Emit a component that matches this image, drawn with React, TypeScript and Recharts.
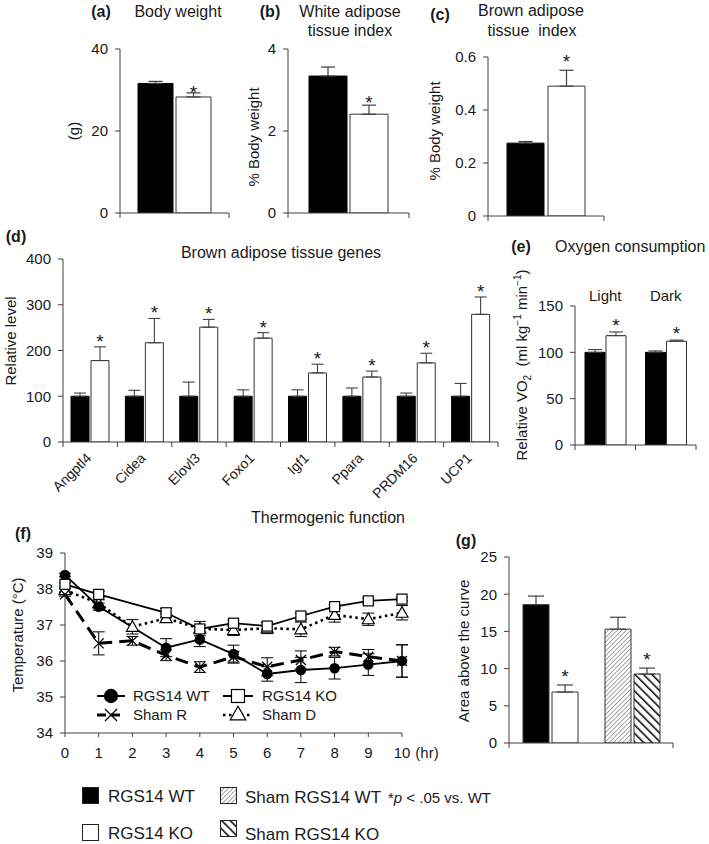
import React from 'react';
import { BarChart, Bar, XAxis, YAxis, ErrorBar, LabelList, Cell, LineChart, Line } from 'recharts';

const FONT = '"Liberation Sans", Arial, Helvetica, sans-serif';
const INK = '#1a1a1a';
const AXIS = '#404040';

// (a)-(c) RGS14 WT vs RGS14 KO
const bodyWeight = [31.6, 28.3];
const bodyWeightErr = [0.5, 1.0];
const watIndex = [3.34, 2.41];
const watIndexErr = [0.22, 0.22];
const batIndex = [0.275, 0.49];
const batIndexErr = [0.006, 0.06];

// (d) brown adipose tissue genes
const genes = ['Angptl4', 'Cidea', 'Elovl3', 'Foxo1', 'Igf1', 'Ppara', 'PRDM16', 'UCP1'];
const genesWT = [100, 100, 100, 100, 100, 100, 100, 100];
const genesWTErr = [7, 13, 31, 14, 14, 18, 7, 28];
const genesKO = [178, 217, 251, 227, 151, 142, 173, 279];
const genesKOErr = [30, 53, 17, 12, 19, 13, 21, 38];

// (e) oxygen consumption
const periods = ['Light', 'Dark'];
const vo2WT = [100, 100];
const vo2WTErr = [3, 1.5];
const vo2KO = [118, 112];
const vo2KOErr = [4, 1.2];

// (f) thermogenic function, body temperature per hour
const hours = [0, 1, 2, 3, 4, 5, 6, 7, 8, 9, 10];
const tempWT = [38.39, 37.51, null, 36.37, 36.6, 36.19, 35.64, 35.75, 35.8, 35.9, 36.0];
const tempWTErr = [0.05, 0.1, null, 0.25, 0.2, 0.25, 0.2, 0.35, 0.3, 0.3, 0.45];
const tempKO = [38.13, 37.85, null, 37.34, 36.89, 37.05, 36.97, 37.25, 37.51, 37.67, 37.72];
const tempKOErr = [0.05, 0.08, null, 0.12, 0.1, 0.08, 0.1, 0.08, 0.06, 0.08, 0.05];
const tempShamR = [37.85, 36.49, 36.56, 36.16, 35.83, 36.12, 35.84, 36.03, 36.26, 36.12, 36.0];
const tempShamRErr = [0.05, 0.32, 0.12, 0.15, 0.15, 0.15, 0.25, 0.25, 0.12, 0.2, 0.45];
const tempShamD = [37.97, 37.6, 36.95, 37.19, 36.9, 36.86, 36.91, 36.88, 37.28, 37.16, 37.34];
const tempShamDErr = [0.05, 0.1, 0.2, 0.12, 0.2, 0.15, 0.15, 0.2, 0.2, 0.17, 0.2];

// (g) area above the curve
const aucGroups = ['RGS14', 'Sham'];
const aucWT = [18.6, 15.3];
const aucWTErr = [1.15, 1.6];
const aucKO = [6.85, 9.27];
const aucKOErr = [0.95, 0.8];

const tickStyle = { fontSize: 15, fill: INK, fontFamily: FONT };

// x ticks sit on the category boundaries, not the centres
const bandTicks = (band: number, count: number, inner: boolean, labels = false) => (p: any) => {
  const { x, y, index, payload } = p;
  const l = x - band / 2;
  const r = x + band / 2;
  return (
    <g>
      {(inner || index === 0) && <line x1={l} x2={l} y1={y} y2={y + 5} stroke={AXIS} />}
      {index === count - 1 && <line x1={r} x2={r} y1={y} y2={y + 5} stroke={AXIS} />}
      {labels && (
        <text transform={`translate(${x + 2},${y + 17}) rotate(-45)`} textAnchor="end"
          fontSize={14} fill={INK} fontFamily={FONT}>{payload.value}</text>
      )}
    </g>
  );
};

const starLabel = (errs: number[], gap: number) => (p: any) => {
  const { x, y, width, height, index } = p;
  const v = Number(p.value);
  if (!v) return null;
  const errTop = y - (errs[index] * height) / v;
  return (
    <text x={x + width / 2} y={errTop - gap + 11} textAnchor="middle" fontSize={19}
      fill={INK} fontFamily={FONT}>*</text>
  );
};

const yAxisProps = (domain: number[], ticks: number[], width: number) => ({
  domain, ticks, width, interval: 0 as const, tickSize: 5, tickMargin: 7, allowDataOverflow: true,
  axisLine: { stroke: AXIS }, tickLine: { stroke: AXIS }, tick: tickStyle,
});

function PairChart({ width, height, top, right, axisW, axisH, domain, ticks, fmt, values, errs, barSize, gap, starGap }: any) {
  const data = [{ k: 'all', wt: values[0], ko: values[1], wtE: [0, errs[0]], koE: [0, errs[1]] }];
  const band = width - axisW - right;
  return (
    <BarChart width={width} height={height} data={data} margin={{ top, right, bottom: 0, left: 0 }}
      barSize={barSize} barGap={gap}>
      <XAxis dataKey="k" height={axisH} axisLine={{ stroke: AXIS }} tickLine={false} tickSize={0}
        tickMargin={0} tick={bandTicks(band, 1, false)} />
      <YAxis {...yAxisProps(domain, ticks, axisW)} tickFormatter={fmt} />
      <Bar dataKey="wt" fill="#000" stroke="#000" isAnimationActive={false}>
        <ErrorBar dataKey="wtE" width={7} stroke={AXIS} strokeWidth={1.2} />
      </Bar>
      <Bar dataKey="ko" fill="#fff" stroke="#333" isAnimationActive={false}>
        <ErrorBar dataKey="koE" width={7} stroke={AXIS} strokeWidth={1.2} />
        <LabelList content={starLabel([errs[1]], starGap)} />
      </Bar>
    </BarChart>
  );
}

const geneData = genes.map((g, i) => ({
  g, wt: genesWT[i], ko: genesKO[i], wtE: [0, genesWTErr[i]], koE: [0, genesKOErr[i]],
}));

const vo2Data = periods.map((p, i) => ({
  p, wt: vo2WT[i], ko: vo2KO[i], wtE: [0, vo2WTErr[i]], koE: [0, vo2KOErr[i]],
}));

const aucData = aucGroups.map((g, i) => ({
  g, wt: aucWT[i], ko: aucKO[i], wtE: [0, aucWTErr[i]], koE: [0, aucKOErr[i]],
}));

const tempRows = (vals: (number | null)[], errs: (number | null)[]) =>
  hours.map((h, i) => ({ h, v: vals[i], e: errs[i] })).filter((r) => r.v != null);

const markCircle = (cx: number, cy: number, s = 1) => <circle cx={cx} cy={cy} r={5.3 * s} fill="#000" />;
const markSquare = (cx: number, cy: number, s = 1) => (
  <rect x={cx - 5 * s} y={cy - 5 * s} width={10 * s} height={10 * s} fill="#fff" stroke="#000" strokeWidth={1.2} />
);
const markCross = (cx: number, cy: number, s = 1) => (
  <path d={`M${cx - 5 * s},${cy - 5 * s}L${cx + 5 * s},${cy + 5 * s}M${cx - 5 * s},${cy + 5 * s}L${cx + 5 * s},${cy - 5 * s}`}
    stroke="#000" strokeWidth={1.3} />
);
const markTri = (cx: number, cy: number, s = 1) => (
  <polygon points={`${cx},${cy - 6 * s} ${cx - 6 * s},${cy + 4.5 * s} ${cx + 6 * s},${cy + 4.5 * s}`}
    fill="#fff" stroke="#000" strokeWidth={1.2} />
);

const dotOf = (mark: (cx: number, cy: number) => React.ReactElement) => (p: any) => (
  <g key={`m${p.index}`}>{mark(p.cx, p.cy)}</g>
);

const Txt = ({ x, y, size = 16, bold = false, start = false, rotate = false, children }: any) => (
  <div style={{
    position: 'absolute', left: x, top: y, whiteSpace: 'nowrap', lineHeight: 1, fontSize: size,
    fontWeight: bold ? 700 : 400, transformOrigin: '50% 50%',
    transform: `translate(${start ? '0' : '-50%'}, -50%)${rotate ? ' rotate(-90deg)' : ''}`,
  }}>{children}</div>
);

const Swatch = ({ fill, id, pattern }: any) => (
  <svg width={17} height={17} style={{ display: 'block' }}>
    {pattern && <defs>{pattern}</defs>}
    <rect x={0.5} y={0.5} width={16} height={16} fill={id ? `url(#${id})` : fill} stroke="#222" />
  </svg>
);

const hatchLight = (id: string) => (
  <pattern id={id} patternUnits="userSpaceOnUse" width={3.2} height={3.2} patternTransform="rotate(45)">
    <rect width={3.2} height={3.2} fill="#fff" />
    <line x1={0} y1={0} x2={0} y2={3.2} stroke="#777" strokeWidth={1.3} />
  </pattern>
);
const hatchDark = (id: string) => (
  <pattern id={id} patternUnits="userSpaceOnUse" width={6} height={6} patternTransform="rotate(-45)">
    <rect width={6} height={6} fill="#fff" />
    <line x1={0} y1={0} x2={0} y2={6} stroke="#000" strokeWidth={3} />
  </pattern>
);

export default function App() {
  const dBand = (510 - 63 - 12) / genes.length;
  const eBand = (205 - 75 - 9) / periods.length;
  const gBand = (240 - 69 - 7) / aucGroups.length;
  return (
    <div style={{ position: 'absolute', left: 0, top: 0, width: 709, height: 844, background: '#fff',
      fontFamily: FONT, color: INK, overflow: 'hidden' }}>
      {/* titles */}
      <Txt x={101} y={12} bold>(a)</Txt>
      <Txt x={178} y={12}>Body weight</Txt>
      <Txt x={270} y={12} bold>(b)</Txt>
      <Txt x={350} y={12}>White adipose</Txt>
      <Txt x={350} y={31}>tissue index</Txt>
      <Txt x={440} y={15} bold>(c)</Txt>
      <Txt x={531} y={11}>Brown adipose</Txt>
      <Txt x={532} y={31}>tissue&nbsp; index</Txt>
      <Txt x={16} y={237} bold>(d)</Txt>
      <Txt x={281} y={253}>Brown adipose tissue genes</Txt>
      <Txt x={521} y={247} bold>(e)</Txt>
      <Txt x={555} y={247} start>Oxygen consumption</Txt>
      <Txt x={328} y={518}>Thermogenic function</Txt>
      <Txt x={23} y={534} bold>(f)</Txt>
      <Txt x={466} y={541} bold>(g)</Txt>

      {/* axis titles */}
      <Txt x={73} y={131} size={15} rotate>(g)</Txt>
      <Txt x={253} y={137} size={15} rotate>% Body weight</Txt>
      <Txt x={434} y={131} size={15} rotate>% Body weight</Txt>
      <Txt x={10} y={341} size={15} rotate>Relative level</Txt>
      <Txt x={523} y={365} size={15} rotate>
        Relative VO<sub style={{ fontSize: 10 }}>2</sub>&nbsp;&nbsp;(ml kg<sup style={{ fontSize: 10 }}>−1</sup> min<sup style={{ fontSize: 10 }}>−1</sup>)
      </Txt>
      <Txt x={17} y={635} size={15} rotate>Temperature (°C)</Txt>
      <Txt x={427} y={752} size={15}>(hr)</Txt>
      <Txt x={463} y={651} size={15} rotate>Area above the curve</Txt>

      {/* (a) */}
      <div style={{ position: 'absolute', left: 60, top: 30 }}>
        <PairChart width={180} height={200} top={19} right={11} axisW={60} axisH={17}
          domain={[0, 40]} ticks={[0, 20, 40]} values={bodyWeight} errs={bodyWeightErr}
          barSize={35} gap={3} starGap={5} />
      </div>
      {/* (b) */}
      <div style={{ position: 'absolute', left: 228, top: 30 }}>
        <PairChart width={190} height={200} top={19} right={9} axisW={60} axisH={17}
          domain={[0, 4]} ticks={[0, 2, 4]} values={watIndex} errs={watIndexErr}
          barSize={38} gap={3} starGap={7} />
      </div>
      {/* (c) */}
      <div style={{ position: 'absolute', left: 428, top: 40 }}>
        <PairChart width={186} height={196} top={17} right={10} axisW={60} axisH={20}
          domain={[0, 0.6]} ticks={[0, 0.2, 0.4, 0.6]} fmt={(v: number) => (v === 0 ? '0' : v.toFixed(1))}
          values={batIndex} errs={batIndexErr} barSize={37} gap={4} starGap={13} />
      </div>

      {/* (d) */}
      <div style={{ position: 'absolute', left: 0, top: 240 }}>
        <BarChart width={510} height={290} data={geneData} margin={{ top: 19, right: 12, bottom: 0, left: 0 }}
          barSize={18} barGap={2}>
          <XAxis dataKey="g" height={88} interval={0} axisLine={{ stroke: AXIS }} tickLine={false}
            tickSize={0} tickMargin={0} tick={bandTicks(dBand, genes.length, true, true)} />
          <YAxis {...yAxisProps([0, 400], [0, 100, 200, 300, 400], 63)} />
          <Bar dataKey="wt" fill="#000" stroke="#000" isAnimationActive={false}>
            <ErrorBar dataKey="wtE" width={6} stroke={AXIS} strokeWidth={1.1} />
          </Bar>
          <Bar dataKey="ko" fill="#fff" stroke="#333" isAnimationActive={false}>
            <ErrorBar dataKey="koE" width={6} stroke={AXIS} strokeWidth={1.1} />
            <LabelList content={starLabel(genesKOErr, 10)} />
          </Bar>
        </BarChart>
      </div>

      {/* (e) */}
      <div style={{ position: 'absolute', left: 500, top: 286 }}>
        <BarChart width={205} height={169} data={vo2Data} margin={{ top: 0, right: 9, bottom: 0, left: 0 }}
          barSize={20} barGap={1}>
          <XAxis dataKey="p" height={10} interval={0} axisLine={{ stroke: AXIS }} tickLine={false}
            tickSize={0} tickMargin={0} tick={bandTicks(eBand, periods.length, true)} />
          <XAxis xAxisId="top" dataKey="p" orientation="top" height={20} interval={0} axisLine={false}
            tickLine={false} tickSize={0} tickMargin={5} tick={tickStyle} />
          <YAxis {...yAxisProps([0, 150], [0, 50, 100, 150], 75)} />
          <Bar dataKey="wt" fill="#000" stroke="#000" isAnimationActive={false}>
            <ErrorBar dataKey="wtE" width={7} stroke={AXIS} strokeWidth={1.1} />
          </Bar>
          <Bar dataKey="ko" fill="#fff" stroke="#333" isAnimationActive={false}>
            <ErrorBar dataKey="koE" width={7} stroke={AXIS} strokeWidth={1.1} />
            <LabelList content={starLabel(vo2KOErr, 11)} />
          </Bar>
        </BarChart>
      </div>

      {/* (f) */}
      <div style={{ position: 'absolute', left: 0, top: 535 }}>
        <LineChart width={440} height={230} margin={{ top: 18, right: 38, bottom: 0, left: 0 }}>
          <XAxis dataKey="h" type="number" domain={[0, 10]} ticks={hours} interval={0} height={32}
            allowDuplicatedCategory={false} axisLine={{ stroke: AXIS }} tickLine={{ stroke: AXIS }}
            tickSize={4} tickMargin={10} tick={tickStyle} />
          <YAxis {...yAxisProps([34, 39], [34, 35, 36, 37, 38, 39], 65)} />
          <Line data={tempRows(tempShamD, tempShamDErr)} dataKey="v" stroke="#000" strokeWidth={2.6}
            strokeDasharray="2.5 3.5" dot={dotOf(markTri)} activeDot={false} isAnimationActive={false}>
            <ErrorBar dataKey="e" width={6} stroke="#000" strokeWidth={1} direction="y" />
          </Line>
          <Line data={tempRows(tempShamR, tempShamRErr)} dataKey="v" stroke="#000" strokeWidth={3}
            strokeDasharray="13 7" dot={dotOf(markCross)} activeDot={false} isAnimationActive={false}>
            <ErrorBar dataKey="e" width={6} stroke="#000" strokeWidth={1} direction="y" />
          </Line>
          <Line data={tempRows(tempWT, tempWTErr)} dataKey="v" stroke="#000" strokeWidth={1.8}
            dot={dotOf(markCircle)} activeDot={false} isAnimationActive={false}>
            <ErrorBar dataKey="e" width={6} stroke="#000" strokeWidth={1} direction="y" />
          </Line>
          <Line data={tempRows(tempKO, tempKOErr)} dataKey="v" stroke="#000" strokeWidth={1.8}
            dot={dotOf(markSquare)} activeDot={false} isAnimationActive={false}>
            <ErrorBar dataKey="e" width={6} stroke="#000" strokeWidth={1} direction="y" />
          </Line>
        </LineChart>
      </div>
      {/* (f) legend */}
      <svg style={{ position: 'absolute', left: 0, top: 680 }} width={400} height={45}>
        <line x1={97} x2={125} y1={16} y2={16} stroke="#000" strokeWidth={2} />
        {markCircle(111, 16, 1.35)}
        <text x={133} y={21} fontSize={15} fill={INK} fontFamily={FONT}>RGS14 WT</text>
        <line x1={223} x2={253} y1={16} y2={16} stroke="#000" strokeWidth={2} />
        {markSquare(238, 16, 1.3)}
        <text x={262} y={21} fontSize={15} fill={INK} fontFamily={FONT}>RGS14 KO</text>
        <line x1={97} x2={125} y1={35} y2={35} stroke="#000" strokeWidth={3} strokeDasharray="9 5" />
        {markCross(111, 35, 1.2)}
        <text x={133} y={40} fontSize={15} fill={INK} fontFamily={FONT}>Sham R</text>
        <line x1={223} x2={253} y1={35} y2={35} stroke="#000" strokeWidth={2.6} strokeDasharray="2.5 3.5" />
        {markTri(238, 34, 1.3)}
        <text x={262} y={40} fontSize={15} fill={INK} fontFamily={FONT}>Sham D</text>
      </svg>

      {/* (g) */}
      <div style={{ position: 'absolute', left: 440, top: 540 }}>
        <BarChart width={240} height={215} data={aucData} margin={{ top: 17, right: 7, bottom: 0, left: 0 }}
          barSize={26} barGap={3}>
          <defs>
            {hatchLight('gHatchL')}
            {hatchDark('gHatchD')}
          </defs>
          <XAxis dataKey="g" height={12} interval={0} axisLine={{ stroke: AXIS }} tickLine={false}
            tickSize={0} tickMargin={0} tick={bandTicks(gBand, aucGroups.length, false)} />
          <YAxis {...yAxisProps([0, 25], [0, 5, 10, 15, 20, 25], 69)} />
          <Bar dataKey="wt" stroke="#333" isAnimationActive={false}>
            {aucData.map((d, i) => <Cell key={d.g} fill={i === 0 ? '#000' : 'url(#gHatchL)'} />)}
            <ErrorBar dataKey="wtE" width={8} stroke={AXIS} strokeWidth={1.2} />
          </Bar>
          <Bar dataKey="ko" stroke="#333" isAnimationActive={false}>
            {aucData.map((d, i) => <Cell key={d.g} fill={i === 0 ? '#fff' : 'url(#gHatchD)'} />)}
            <ErrorBar dataKey="koE" width={8} stroke={AXIS} strokeWidth={1.2} />
            <LabelList content={starLabel(aucKOErr, 13)} />
          </Bar>
        </BarChart>
      </div>

      {/* group legend */}
      <div style={{ position: 'absolute', left: 82, top: 787 }}><Swatch fill="#000" /></div>
      <Txt x={108} y={796} size={17} start>RGS14 WT</Txt>
      <div style={{ position: 'absolute', left: 82, top: 824 }}><Swatch fill="#fff" /></div>
      <Txt x={108} y={833} size={17} start>RGS14 KO</Txt>
      <div style={{ position: 'absolute', left: 220, top: 787 }}><Swatch id="lgHatchL" pattern={hatchLight('lgHatchL')} /></div>
      <Txt x={245} y={797} size={17} start>Sham RGS14 WT</Txt>
      <div style={{ position: 'absolute', left: 220, top: 820 }}><Swatch id="lgHatchD" pattern={hatchDark('lgHatchD')} /></div>
      <Txt x={245} y={834} size={17} start>Sham RGS14 KO</Txt>
      <Txt x={388} y={797} size={15} start>*<i>p</i> &lt; .05 vs. WT</Txt>
    </div>
  );
}
